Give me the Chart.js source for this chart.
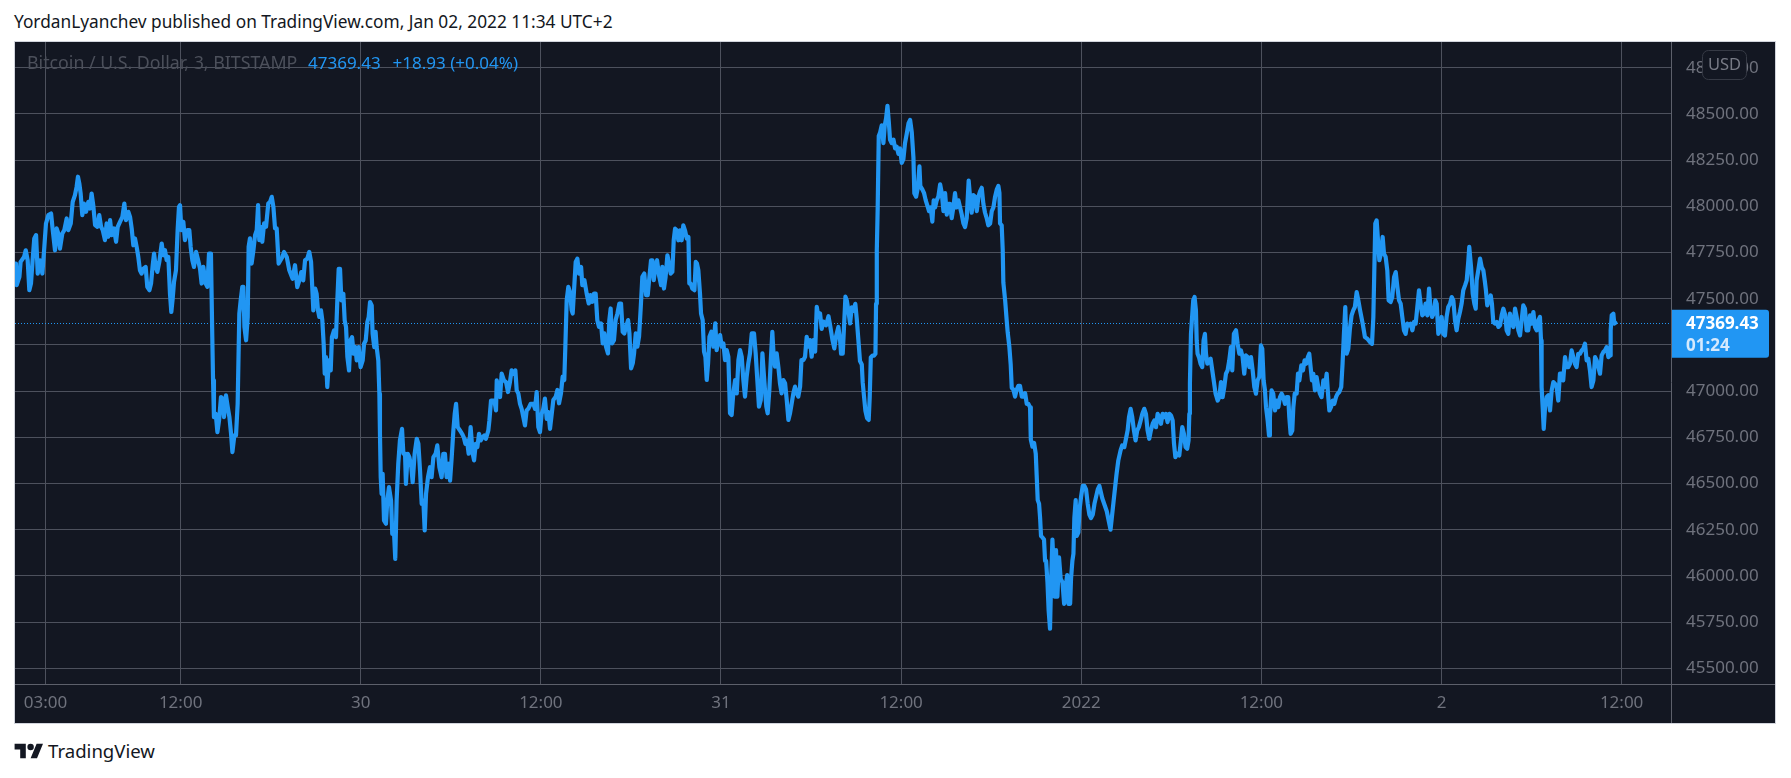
<!DOCTYPE html>
<html>
<head>
<meta charset="utf-8">
<script src="https://cdn.jsdelivr.net/npm/chart.js@4.4.1/dist/chart.umd.min.js"></script>
<style>
  html, body { margin: 0; padding: 0; background: #ffffff; }
  body { width: 1791px; height: 778px; position: relative; overflow: hidden; font-family: "Noto Sans", sans-serif; }
  #hdr { position: absolute; left: 14px; top: 12px; font-size: 17.3px; line-height: 20px; color: #131722; white-space: nowrap; }
  #panel { position: absolute; left: 14px; top: 41px; width: 1760px; height: 681px; border: 1px solid #d1d4dc; }
  #panel canvas { display: block; }
  #logo { position: absolute; left: 14px; top: 740px; height: 22px; display: flex; align-items: center; gap: 4px; color: #131722; font-size: 18.6px; line-height: 22px; }
</style>
</head>
<body>
<div id="hdr">YordanLyanchev published on TradingView.com, Jan 02, 2022 11:34 UTC+2</div>
<div id="panel"><canvas id="chart" width="1760" height="681"></canvas></div>
<div id="logo">
  <svg width="30" height="16" viewBox="0 3 36 20"><path fill="#131722" d="M14 22H7V11H0V4h14v18zM28 22h-8l7.5-18h8L28 22z"/><circle fill="#131722" cx="20" cy="8" r="4"/></svg>
  <span>TradingView</span>
</div>
<script>
// hours since Dec 29 2021 00:00 (UTC+2), 3-minute BTCUSD closes
const hours = [
  0.95,1.03,1.08,1.26,1.34,1.57,1.68,1.81,1.92,2.03,
  2.14,2.25,2.37,2.48,2.63,2.79,2.92,3.03,3.19,3.37,
  3.48,3.63,3.74,3.85,3.96,4.12,4.25,4.41,4.52,4.68,
  4.81,4.96,5.07,5.16,5.25,5.34,5.45,5.56,5.70,5.85,
  5.96,6.07,6.18,6.30,6.45,6.58,6.70,6.81,6.96,7.07,
  7.18,7.30,7.41,7.56,7.70,7.81,7.96,8.12,8.25,8.36,
  8.52,8.63,8.74,8.85,8.96,9.07,9.18,9.29,9.40,9.52,
  9.67,9.78,9.92,10.03,10.14,10.23,10.34,10.45,10.58,10.74,
  10.85,10.96,11.07,11.18,11.29,11.38,11.47,11.56,11.69,11.80,
  11.89,11.96,12.05,12.18,12.29,12.45,12.58,12.67,12.78,12.89,
  13.03,13.14,13.29,13.40,13.51,13.67,13.78,13.89,14.02,14.07,
  14.11,14.16,14.22,14.34,14.45,14.56,14.69,14.80,14.89,15.02,
  15.14,15.25,15.36,15.45,15.58,15.69,15.80,15.91,16.00,16.11,
  16.18,16.25,16.36,16.47,16.53,16.62,16.73,16.85,16.96,17.07,
  17.16,17.24,17.33,17.44,17.56,17.69,17.84,17.96,18.07,18.18,
  18.29,18.40,18.53,18.78,18.89,19.07,19.24,19.46,19.62,19.77,
  19.91,20.04,20.17,20.29,20.44,20.57,20.69,20.77,20.84,20.97,
  21.06,21.15,21.24,21.35,21.44,21.53,21.60,21.68,21.77,21.88,
  22.00,22.08,22.22,22.35,22.44,22.53,22.62,22.71,22.84,22.93,
  23.02,23.11,23.22,23.31,23.42,23.53,23.64,23.73,23.86,23.99,
  24.13,24.22,24.33,24.44,24.53,24.62,24.73,24.79,24.90,24.99,
  25.06,25.17,25.24,25.28,25.33,25.39,25.46,25.55,25.68,25.77,
  25.88,26.02,26.10,26.22,26.30,26.39,26.50,26.61,26.75,26.84,
  26.95,27.01,27.13,27.24,27.37,27.46,27.59,27.73,27.84,27.95,
  28.06,28.17,28.26,28.35,28.48,28.61,28.72,28.84,28.99,29.10,
  29.24,29.39,29.50,29.61,29.72,29.86,29.95,30.06,30.17,30.26,
  30.35,30.46,30.61,30.75,30.86,30.97,31.08,31.19,31.32,31.46,
  31.55,31.66,31.77,31.88,31.99,32.12,32.23,32.34,32.50,32.57,
  32.68,32.90,33.01,33.06,33.17,33.28,33.39,33.54,33.68,33.81,
  33.94,34.05,34.17,34.30,34.39,34.50,34.61,34.72,34.83,34.94,
  35.05,35.16,35.32,35.50,35.61,35.72,35.83,35.94,36.05,36.16,
  36.27,36.39,36.50,36.61,36.83,36.99,37.10,37.21,37.34,37.45,
  37.56,37.63,37.72,37.83,37.94,38.05,38.12,38.21,38.32,38.43,
  38.54,38.68,38.76,38.90,39.05,39.19,39.30,39.43,39.54,39.65,
  39.76,39.87,40.01,40.12,40.23,40.34,40.47,40.56,40.65,40.74,
  40.87,40.98,41.10,41.23,41.34,41.45,41.56,41.67,41.81,41.90,
  42.01,42.12,42.21,42.32,42.43,42.54,42.65,42.76,42.89,43.01,
  43.12,43.23,43.34,43.43,43.52,43.63,43.74,43.87,44.01,44.09,
  44.20,44.31,44.43,44.54,44.65,44.76,44.85,44.94,45.05,45.16,
  45.27,45.38,45.49,45.60,45.72,45.83,45.89,45.98,46.09,46.23,
  46.32,46.40,46.49,46.60,46.67,46.78,46.87,46.96,47.05,47.14,
  47.23,47.36,47.49,47.62,47.71,47.82,47.94,48.05,48.16,48.27,
  48.38,48.49,48.60,48.71,48.82,48.94,49.05,49.16,49.27,49.38,
  49.49,49.60,49.71,49.82,49.93,50.05,50.20,50.31,50.42,50.53,
  50.65,50.76,50.85,50.93,51.02,51.11,51.22,51.33,51.42,51.51,
  51.60,51.71,51.82,51.93,52.04,52.15,52.27,52.38,52.49,52.60,
  52.71,52.82,52.93,53.04,53.15,53.27,53.36,53.49,53.60,53.71,
  53.82,53.93,54.04,54.15,54.27,54.38,54.49,54.60,54.71,54.82,
  55.00,55.16,55.27,55.42,55.55,55.67,55.82,55.93,56.00,56.11,
  56.20,56.29,56.38,56.49,56.60,56.71,56.82,56.95,57.04,57.15,
  57.26,57.38,57.44,57.53,57.62,57.73,57.84,57.91,57.98,58.09,
  58.20,58.29,58.33,58.38,58.44,58.51,58.60,58.71,58.82,58.91,
  59.00,59.09,59.18,59.26,59.37,59.49,59.60,59.71,59.82,59.93,
  60.04,60.15,60.26,60.37,60.49,60.60,60.71,60.82,60.88,61.00,
  61.11,61.22,61.28,61.42,61.53,61.64,61.75,61.86,61.97,62.08,
  62.17,62.26,62.37,62.48,62.60,62.71,62.82,62.93,63.04,63.15,
  63.26,63.37,63.48,63.59,63.70,63.82,63.93,64.04,64.15,64.26,
  64.37,64.50,64.59,64.70,64.81,64.93,65.04,65.15,65.26,65.37,
  65.48,65.59,65.70,65.81,65.93,66.04,66.15,66.26,66.37,66.48,
  66.55,66.59,66.70,66.77,66.81,66.93,67.04,67.10,67.21,67.30,
  67.37,67.48,67.59,67.70,67.81,67.92,68.04,68.15,68.26,68.37,
  68.48,68.59,68.64,68.75,68.86,68.97,69.03,69.10,69.19,69.26,
  69.32,69.43,69.52,69.59,69.66,69.75,69.83,69.92,69.99,70.08,
  70.15,70.23,70.32,70.41,70.52,70.63,70.75,70.86,70.97,71.06,
  71.15,71.26,71.32,71.41,71.48,71.54,71.63,71.70,71.81,71.88,
  71.99,72.10,72.21,72.32,72.43,72.54,72.65,72.77,72.88,72.99,
  73.10,73.21,73.40,73.70,73.95,74.15,74.35,74.47,74.62,74.73,
  74.87,74.98,75.09,75.18,75.29,75.40,75.51,75.62,75.73,75.84,
  75.96,76.07,76.20,76.31,76.42,76.53,76.64,76.76,76.87,76.98,
  77.09,77.20,77.31,77.42,77.53,77.64,77.75,77.87,77.98,78.09,
  78.18,78.27,78.40,78.53,78.64,78.73,78.84,78.95,79.06,79.15,
  79.20,79.24,79.31,79.40,79.46,79.55,79.64,79.69,79.75,79.84,
  79.95,80.06,80.15,80.24,80.31,80.40,80.51,80.62,80.73,80.84,
  80.95,81.09,81.20,81.31,81.42,81.53,81.64,81.75,81.86,81.97,
  82.06,82.17,82.31,82.42,82.53,82.64,82.75,82.86,82.97,83.08,
  83.20,83.31,83.42,83.53,83.64,83.75,83.86,83.97,84.06,84.15,
  84.24,84.31,84.42,84.51,84.57,84.68,84.79,84.91,85.02,85.13,
  85.24,85.35,85.46,85.57,85.68,85.79,85.86,85.95,86.06,86.13,
  86.22,86.35,86.44,86.53,86.66,86.77,86.88,86.99,87.10,87.19,
  87.28,87.37,87.46,87.57,87.68,87.79,87.90,88.01,88.13,88.24,
  88.35,88.44,88.53,88.64,88.75,88.86,88.97,89.08,89.19,89.32,
  89.41,89.50,89.59,89.68,89.79,89.90,90.01,90.12,90.23,90.35,
  90.46,90.57,90.75,90.90,91.06,91.24,91.37,91.46,91.52,91.59,
  91.68,91.77,91.86,91.97,92.08,92.17,92.28,92.39,92.48,92.61,
  92.72,92.84,92.95,93.06,93.17,93.28,93.39,93.50,93.61,93.72,
  93.83,93.95,94.06,94.17,94.28,94.39,94.50,94.61,94.72,94.83,
  94.94,95.06,95.17,95.26,95.37,95.48,95.59,95.68,95.79,95.90,
  96.01,96.12,96.23,96.34,96.45,96.57,96.68,96.79,96.90,97.01,
  97.12,97.23,97.34,97.45,97.57,97.68,97.79,97.85,97.97,98.08,
  98.19,98.28,98.34,98.45,98.57,98.68,98.79,98.88,98.96,99.05,
  99.16,99.28,99.36,99.45,99.56,99.68,99.79,99.90,100.01,100.12,
  100.25,100.34,100.45,100.56,100.67,100.79,100.90,101.01,101.12,101.23,
  101.34,101.45,101.56,101.67,101.78,101.90,102.01,102.12,102.23,102.34,
  102.45,102.56,102.63,102.67,102.74,102.81,102.90,103.01,103.12,103.23,
  103.34,103.45,103.56,103.67,103.78,103.89,104.00,104.11,104.23,104.34,
  104.45,104.56,104.67,104.78,104.89,105.00,105.11,105.23,105.34,105.45,
  105.56,105.67,105.78,105.89,106.00,106.12,106.23,106.34,106.45,106.56,
  106.67,106.78,106.89,107.00,107.12,107.23,107.27,107.34,107.45,107.51,
  107.58
];

const prices = [
  47640,47690,47573,47618,47699,47726,47762,47708,47546,47582,
  47708,47826,47844,47636,47708,47636,47780,47907,47952,47961,
  47871,47762,47880,47853,47771,47853,47871,47934,47871,47907,
  48024,48060,48105,48160,48124,48069,47952,48015,47970,48024,
  47988,48069,48006,47898,47889,47952,47889,47871,47817,47907,
  47835,47925,47844,47880,47808,47889,47916,47943,48015,47925,
  47970,47943,47880,47789,47826,47780,47726,47654,47636,47663,
  47672,47564,47546,47582,47681,47744,47672,47645,47699,47798,
  47735,47762,47708,47726,47528,47428,47500,47591,47654,47871,
  47997,48006,47871,47916,47817,47871,47871,47780,47708,47672,
  47753,47717,47663,47582,47672,47582,47564,47744,47744,47491,
  47293,47058,46859,46877,46778,46841,46968,46959,46859,46977,
  46914,46859,46769,46670,46760,46760,46932,47419,47491,47564,
  47564,47347,47275,47401,47780,47826,47690,47762,47844,47871,
  48006,47817,47889,47808,47907,47889,48015,48024,48051,47997,
  47880,47880,47690,47726,47753,47726,47654,47608,47681,47563,
  47599,47644,47599,47708,47717,47753,47699,47563,47437,47554,
  47527,47437,47401,47437,47383,47256,47094,47184,47022,47166,
  47112,47292,47329,47292,47491,47662,47662,47491,47527,47383,
  47347,47184,47112,47274,47292,47202,47238,47166,47238,47130,
  47166,47256,47274,47374,47401,47482,47464,47310,47238,47320,
  47238,47166,46986,46769,46534,46444,46552,46300,46282,46408,
  46480,46408,46227,46227,46092,46408,46607,46733,46796,46661,
  46661,46498,46661,46643,46588,46507,46661,46742,46715,46570,
  46390,46408,46246,46444,46534,46588,46534,46643,46661,46706,
  46588,46534,46661,46661,46534,46607,46516,46643,46787,46877,
  46931,46805,46787,46769,46751,46715,46733,46661,46805,46661,
  46625,46715,46697,46769,46733,46751,46760,46742,46787,46841,
  46949,46949,46895,47058,47004,46968,47094,47058,47049,46995,
  47049,47112,47094,47112,47004,46986,46931,46904,46859,46814,
  46895,46904,46931,46931,46904,46995,46805,46778,46877,46904,
  46959,46850,46886,46796,46952,46970,47006,46934,46988,47078,
  47060,47240,47492,47564,47537,47438,47420,47546,47699,47717,
  47636,47672,47573,47600,47528,47474,47519,47483,47528,47528,
  47384,47348,47366,47258,47312,47240,47204,47384,47447,47258,
  47276,47384,47420,47474,47474,47321,47312,47348,47384,47312,
  47123,47150,47204,47312,47240,47294,47447,47618,47636,47519,
  47519,47618,47708,47708,47600,47672,47708,47627,47573,47672,
  47555,47618,47735,47690,47636,47645,47816,47879,47870,47816,
  47870,47816,47897,47870,47825,47834,47582,47582,47555,47546,
  47699,47690,47654,47528,47420,47384,47213,47186,47060,47150,
  47294,47321,47240,47366,47222,47276,47303,47240,47258,47168,
  47222,47186,46880,46871,46988,47060,46988,47168,47222,47186,
  47060,46970,47078,47150,47204,47312,47312,47204,47060,46916,
  46952,47204,47096,47006,46916,46880,47006,47186,47321,47186,
  47132,47204,47132,47042,46988,47060,47042,46952,46844,46880,
  46934,46988,47024,46988,46970,47024,47168,47168,47186,47294,
  47240,47276,47186,47276,47213,47456,47402,47420,47337,47376,
  47356,47405,47356,47279,47231,47298,47347,47279,47202,47202,
  47356,47511,47491,47434,47366,47453,47434,47472,47395,47279,
  47163,47144,47047,46970,46893,46854,46844,46970,47182,47192,
  47192,47202,47472,47762,47994,48380,48400,48438,48342,48438,
  48477,48544,48457,48361,48342,48361,48313,48322,48284,48313,
  48235,48255,48342,48390,48448,48467,48400,48264,48071,48052,
  48100,48216,48110,48090,48071,48032,48003,47974,47994,47917,
  48032,47994,48032,48052,48119,48071,47974,48071,47955,48013,
  48013,47936,47994,48071,47994,48032,47994,47955,47907,47888,
  47936,48139,48052,47965,48061,48052,47974,48052,48081,48100,
  48013,47965,47936,47897,47907,47974,47994,48052,48090,48110,
  48071,47907,47897,47762,47588,47491,47376,47318,47240,47144,
  47018,47008,46970,47008,47028,47028,46970,46970,46989,46931,
  46931,46912,46738,46699,46719,46661,46545,46410,46390,46313,
  46216,46207,46197,46081,46081,45965,45811,45714,45965,46197,
  46062,45888,46139,45888,46100,45985,45965,45849,45946,46004,
  45849,45849,45985,46081,46120,46313,46410,46216,46236,46352,
  46429,46487,46487,46468,46390,46332,46313,46332,46390,46429,
  46468,46487,46420,46350,46250,46400,46550,46625,46679,46706,
  46697,46742,46787,46859,46904,46859,46787,46733,46787,46805,
  46841,46877,46904,46877,46787,46742,46787,46823,46841,46805,
  46877,46859,46823,46877,46859,46877,46832,46877,46868,46841,
  46715,46643,46661,46652,46733,46805,46769,46697,46688,46733,
  46877,47040,47310,47419,47491,47509,47437,47274,47202,47184,
  47148,47130,47274,47310,47202,47148,47166,47175,47112,47049,
  46986,46949,46967,47049,46967,47022,47094,47112,47166,47238,
  47112,47310,47329,47256,47202,47220,47184,47094,47193,47184,
  47130,47184,47112,47022,46986,47058,47076,47247,47229,47058,
  47004,46913,46841,46760,46859,47004,46986,46895,46949,46913,
  46967,46986,46967,46931,46967,46967,46859,46769,46787,46913,
  46986,46986,47094,47058,47139,47112,47166,47148,47184,47202,
  47130,47058,47094,47004,47076,47022,46986,46967,47058,47022,
  47094,46986,46895,46913,46949,46931,46967,46986,46995,47022,
  47148,47310,47455,47202,47229,47338,47410,47437,47455,47536,
  47491,47440,47365,47292,47283,47265,47256,47401,47635,47906,
  47924,47816,47708,47744,47834,47744,47726,47653,47491,47482,
  47509,47617,47644,47563,47491,47473,47401,47329,47310,47365,
  47356,47365,47329,47374,47365,47455,47545,47473,47410,47419,
  47473,47410,47554,47455,47401,47419,47491,47473,47310,47329,
  47401,47310,47301,47401,47455,47473,47509,47491,47383,47329,
  47392,47428,47473,47545,47572,47599,47708,47780,47671,47527,
  47473,47446,47599,47653,47717,47671,47653,47599,47545,47464,
  47491,47518,47473,47374,47365,47374,47347,47356,47410,47446,
  47410,47329,47310,47419,47365,47347,47446,47401,47329,47301,
  47383,47464,47446,47329,47329,47410,47365,47428,47347,47329,
  47383,47401,47274,47022,46913,46796,46913,46968,46977,46895,
  47004,47049,47040,47022,46949,47094,47094,47058,47184,47130,
  47130,47148,47220,47184,47148,47130,47202,47202,47220,47229,
  47256,47166,47175,47112,47022,47058,47184,47166,47130,47094,
  47193,47211,47220,47238,47184,47193,47329,47410,47419,47365,
  47369.43
];

// time axis: 12h grid, labels as shown on the chart
const tickHours  = [3, 12, 24, 36, 48, 60, 72, 84, 96, 108];
const tickLabels = ['03:00', '12:00', '30', '12:00', '31', '12:00', '2022', '12:00', '2', '12:00'];
const priceTicks = [45500, 45750, 46000, 46250, 46500, 46750, 47000, 47250, 47500, 47750, 48000, 48250, 48500, 48750];

const lastPrice = 47369.43;
const lastChange = '+18.93 (+0.04%)';
const countdown = '01:24';
const symbolText = 'Bitcoin / U.S. Dollar, 3, BITSTAMP';

const BG = '#131722';
const BLUE = '#2196f3';
const GRID = '#4d515d';
const SEP = '#5d606b';
const AXIS_TXT = '#6f727d';
const FONT = '"Noto Sans", sans-serif';

function roundRectR(ctx, x, y, w, h, r) {
  // square left side, rounded right side
  ctx.beginPath();
  ctx.moveTo(x, y);
  ctx.lineTo(x + w - r, y);
  ctx.quadraticCurveTo(x + w, y, x + w, y + r);
  ctx.lineTo(x + w, y + h - r);
  ctx.quadraticCurveTo(x + w, y + h, x + w - r, y + h);
  ctx.lineTo(x, y + h);
  ctx.closePath();
}

const tvPanel = {
  id: 'tvPanel',
  beforeDraw(chart) {
    const { ctx, width, height } = chart;
    ctx.save();
    ctx.fillStyle = BG;
    ctx.fillRect(0, 0, width, height);
    ctx.restore();
  },
  beforeDatasetsDraw(chart) {
    const { ctx, chartArea } = chart;
    const y = Math.round(chart.scales.y.getPixelForValue(lastPrice)) + 0.5;
    ctx.save();
    ctx.strokeStyle = BLUE;
    ctx.lineWidth = 1;
    ctx.setLineDash([1, 2]);
    ctx.beginPath();
    ctx.moveTo(chartArea.left, y);
    ctx.lineTo(chartArea.right, y);
    ctx.stroke();
    ctx.restore();
  },
  afterDraw(chart) {
    const { ctx, chartArea, width, height } = chart;
    ctx.save();

    // axis separators
    ctx.strokeStyle = SEP;
    ctx.lineWidth = 1;
    ctx.beginPath();
    ctx.moveTo(chartArea.right + 0.5, 0);
    ctx.lineTo(chartArea.right + 0.5, height);
    ctx.moveTo(0, chartArea.bottom + 0.5);
    ctx.lineTo(width, chartArea.bottom + 0.5);
    ctx.stroke();

    // symbol legend
    ctx.textBaseline = 'middle';
    ctx.textAlign = 'left';
    ctx.font = '17.8px ' + FONT;
    let x = 12;
    ctx.fillStyle = '#4c505b';
    ctx.fillText(symbolText, x, 22);
    x = 293;
    ctx.font = '17px ' + FONT;
    ctx.fillStyle = BLUE;
    const lp = lastPrice.toFixed(2);
    ctx.fillText(lp, x, 22);
    x += ctx.measureText(lp).width + 12;
    ctx.fillText(lastChange, x, 22);

    // USD box
    const ux = chartArea.right + 31, uy = 8, uw = 44, uh = 29;
    ctx.beginPath();
    ctx.roundRect(ux + 0.5, uy + 0.5, uw, uh, 6);
    ctx.fillStyle = BG;
    ctx.fill();
    ctx.strokeStyle = '#363a45';
    ctx.stroke();
    ctx.fillStyle = '#787b86';
    ctx.textAlign = 'center';
    ctx.font = '16.5px ' + FONT;
    ctx.fillText('USD', ux + uw / 2 + 0.5, uy + uh / 2 + 1);

    // last price label
    const ly = chart.scales.y.getPixelForValue(lastPrice);
    roundRectR(ctx, chartArea.right + 1, ly - 13, 97, 48, 3);
    ctx.fillStyle = BLUE;
    ctx.fill();
    ctx.textAlign = 'left';
    ctx.fillStyle = '#ffffff';
    ctx.font = 'bold 17px ' + FONT;
    ctx.fillText(lp, chartArea.right + 15, ly + 1);
    ctx.fillStyle = '#d5e9fd';
    ctx.fillText(countdown, chartArea.right + 15, ly + 23);

    ctx.restore();
  }
};

new Chart(document.getElementById('chart'), {
  type: 'line',
  data: {
    datasets: [{
      data: hours.map((h, i) => ({ x: h, y: prices[i] })),
      borderColor: BLUE,
      borderWidth: 4.2,
      pointRadius: 0,
      tension: 0,
      borderJoinStyle: 'round',
      borderCapStyle: 'round'
    }]
  },
  options: {
    responsive: false,
    animation: false,
    devicePixelRatio: 1,
    layout: { padding: 0 },
    plugins: { legend: { display: false }, tooltip: { enabled: false } },
    scales: {
      x: {
        type: 'linear', position: 'bottom', min: 0.966, max: 111.29,
        afterBuildTicks: s => { s.ticks = tickHours.map(v => ({ value: v })); },
        afterFit: s => { s.height = 39; s.paddingLeft = 0; s.paddingRight = 0; },
        ticks: {
          autoSkip: false, maxRotation: 0, padding: 9, color: AXIS_TXT,
          font: { family: FONT, size: 17 },
          callback: v => tickLabels[tickHours.indexOf(v)]
        },
        grid: { color: GRID, lineWidth: 1, drawTicks: false },
        border: { display: false }
      },
      y: {
        position: 'right', min: 45415, max: 48889,
        afterBuildTicks: s => { s.ticks = priceTicks.map(v => ({ value: v })); },
        afterFit: s => { s.width = 104; s.paddingTop = 0; s.paddingBottom = 0; },
        ticks: {
          padding: 15, color: AXIS_TXT,
          font: { family: FONT, size: 17 },
          callback: v => v.toFixed(2)
        },
        grid: { color: GRID, lineWidth: 1, drawTicks: false },
        border: { display: false }
      }
    }
  },
  plugins: [tvPanel]
});
</script>
</body>
</html>
